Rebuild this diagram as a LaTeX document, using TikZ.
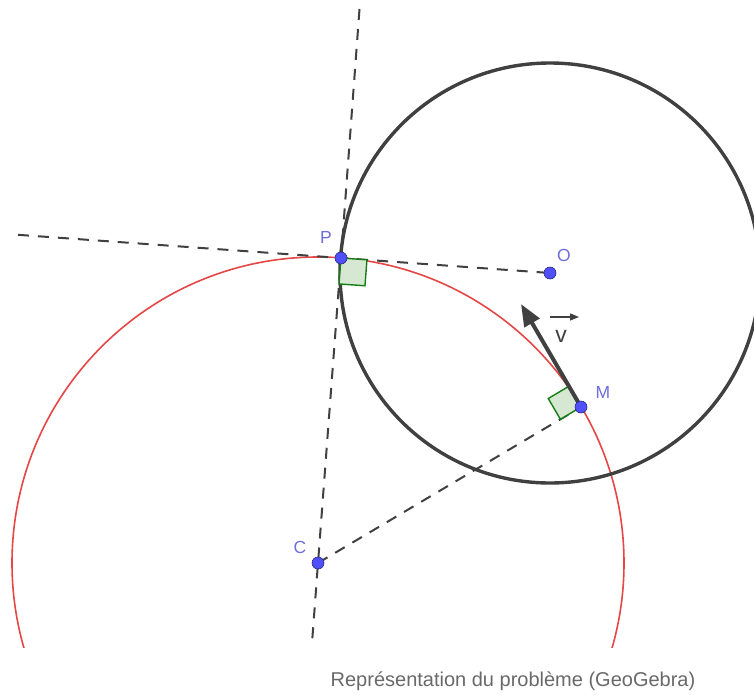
\documentclass[tikz,border=0pt]{standalone}
\usepackage{fontspec}
\setmainfont{Liberation Sans}
\usetikzlibrary{calc,arrows.meta}
\definecolor{ptfill}{RGB}{80,80,250}
\definecolor{ptdraw}{RGB}{40,40,130}
\definecolor{lblue}{RGB}{110,110,220}
\definecolor{gred}{RGB}{230,70,70}
\definecolor{gdark}{RGB}{64,64,64}
\definecolor{ggreen}{RGB}{20,125,20}
\definecolor{gfill}{RGB}{214,232,210}
\definecolor{capgray}{RGB}{105,105,105}
\tikzset{
  dashline/.style={gdark, line width=2pt, dash pattern=on 11pt off 9pt},
  ptdot/.style={circle, fill=ptfill, draw=ptdraw, line width=0.6pt, inner sep=0pt, minimum size=12pt},
  ptlabel/.style={text=lblue, font=\fontsize{17.5}{17.5}\selectfont, inner sep=0pt},
  rangle/.style={draw=ggreen, fill=gfill, line width=1.4pt, line join=miter},
  vecarrow/.style={gdark, line width=4pt, -{Triangle[length=22pt,width=17pt]}},
}
\begin{document}
\begin{tikzpicture}[x=1pt,y=-1pt]
\useasboundingbox (0,0) rectangle (754,696);
\fill[white] (0,0) rectangle (754,696);
% key points
\coordinate (P) at (341,258);
\coordinate (O) at (550,273);
\coordinate (M) at (581,407);
\coordinate (C) at (318,563);
\coordinate (T) at (359.5,9);
\coordinate (B) at (311.7,647);
\coordinate (L) at (18,234.8);
\coordinate (V) at (521,304);
\begin{scope}
\clip (0,0) rectangle (754,647);
% red circle centred at C through P
\draw[gred, line width=1.6pt] (C) circle (306);
\end{scope}
\begin{scope}
\clip (0,0) rectangle (754,696);
% black circle centred at O
\draw[gdark, line width=3.4pt] (O) circle (210);
\end{scope}
% dashed lines
\draw[dashline] (T) -- (P) -- (C) -- (B);
\draw[dashline] (L) -- (P) -- (O);
\draw[dashline] (C) -- (M);
% right angle at P
\coordinate (Pa) at ($(P)!26pt!(O)$);
\coordinate (Pb) at ($(P)!26pt!(C)$);
\draw[rangle] (P) -- (Pa) -- ($(Pa)+(Pb)-(P)$) -- (Pb) -- cycle;
% right angle at M
\coordinate (Ma) at ($(M)!24pt!(C)$);
\coordinate (Mb) at ($(M)!24pt!(V)$);
\draw[rangle] (M) -- (Ma) -- ($(Ma)+(Mb)-(M)$) -- (Mb) -- cycle;
% vector v
\draw[vecarrow] (M) -- (V);
\node[text=gdark, font=\fontsize{23}{23}\selectfont, inner sep=0pt] (vlab) at (561,336) {v};
\coordinate (va) at (550,317);
\coordinate (vb) at (579,317);
\draw[gdark, line width=1.3pt, -{Triangle[length=9pt,width=7pt]}] (va) -- (vb);
% points
\node[ptdot] (Pdot) at (P) {};
\node[ptdot] (Odot) at (O) {};
\node[ptdot] (Mdot) at (M) {};
\node[ptdot] (Cdot) at (C) {};
% labels
\node[ptlabel] (Plab) at (326,237) {P};
\node[ptlabel] (Olab) at (564,255) {O};
\node[ptlabel] (Mlab) at (603,392) {M};
\node[ptlabel] (Clab) at (300,547) {C};
% caption
\node[text=capgray, font=\fontsize{20}{20}\selectfont, inner sep=0pt] (cap) at (513,681) {Représentation du problème (GeoGebra)};
\end{tikzpicture}
\end{document}
